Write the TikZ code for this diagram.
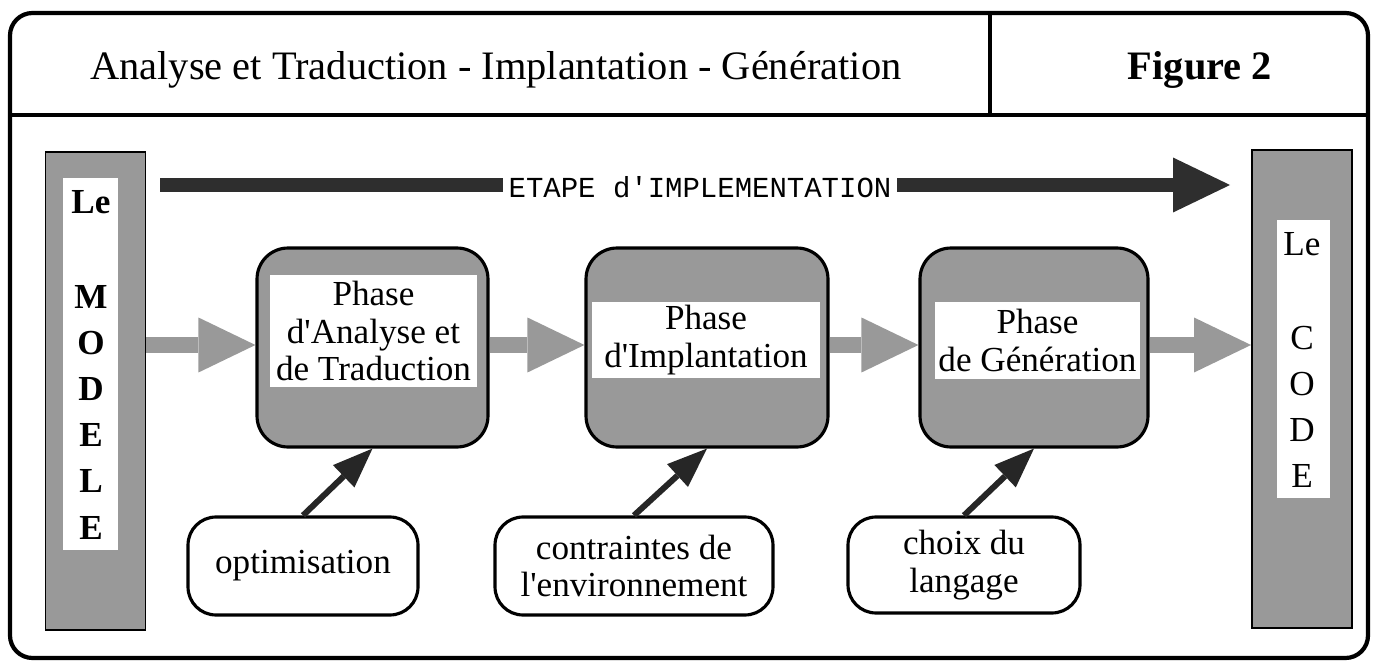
\documentclass[tikz,border=0pt]{standalone}
\usepackage{fontspec}
\setmainfont{Liberation Serif}
\setmonofont{Liberation Mono}
\usetikzlibrary{arrows.meta}

\definecolor{screen}{gray}{0.6}
\definecolor{ink}{gray}{0.15}

\newcommand{\titlefont}{\fontsize{23}{27}\selectfont}
\newcommand{\phasefont}{\fontsize{20}{21.6}\selectfont}
\newcommand{\letterfont}{\fontsize{20}{26.2}\selectfont}
\newcommand{\apos}{\textquotesingle}

\tikzset{
  frame/.style={draw=black, line width=2.4pt, rounded corners=0.45cm},
  rule/.style={draw=black, line width=2pt},
  endbox/.style={draw=black, line width=1.1pt, fill=screen, minimum width=2.0cm, minimum height=9.56cm, inner sep=0pt},
  endpanel/.style={fill=white, inner sep=0pt},
  letters/.style={align=center, inner sep=0pt, font=\letterfont},
  phasebox/.style={draw=black, line width=1.8pt, fill=screen, rounded corners=0.62cm, minimum height=3.98cm, inner sep=0pt},
  panel/.style={fill=white, inner sep=0pt, align=center, font=\phasefont},
  note/.style={draw=black, line width=1.8pt, rounded corners=0.56cm, fill=white, align=center, font=\phasefont, inner sep=0pt, minimum height=1.96cm},
  grayarrow/.style={draw=screen, line width=0.32cm, -{Triangle[length=1.14cm, width=1.1cm, line width=0pt]}},
  darkarrow/.style={draw=ink, line width=0.12cm, -{Triangle[length=0.8cm, width=0.62cm, line width=0pt]}},
  bigarrow/.style={draw=black!82, line width=0.3cm, -{Triangle[length=1.14cm, width=1.1cm, line width=0pt]}},
  steplabel/.style={fill=white, inner xsep=3pt, inner ysep=1pt, font=\ttfamily\fontsize{16.5}{18}\selectfont},
}

\begin{document}
\begin{tikzpicture}[x=0.02cm, y=-0.02cm]
\useasboundingbox (0,0) rectangle (1374,669);

% outer frame and header
\draw[frame] (10,13) rectangle (1368,658);
\draw[rule] (10,115) -- (1368,115);
\draw[rule] (990,13) -- (990,115);
\node[anchor=base west, font=\titlefont, inner sep=0pt] (title) at (90,80)
  {Analyse et Traduction - Implantation - Génération};
\node[anchor=base, font=\titlefont\bfseries, inner sep=0pt] (fig) at (1200,80) {Figure 2};

% implementation stage arrow
\coordinate (etapeS) at (160,185);
\coordinate (etapeE) at (1230,185);
\draw[bigarrow] (etapeS) -- (etapeE);
\node[steplabel] (etape) at (700,187) {ETAPE d\apos IMPLEMENTATION};

% the model and the code
\node[endbox] (modele) at (95.5,391) {};
\node[endpanel, minimum width=1.1cm, minimum height=7.44cm] (modelepanel) at (90.5,364) {};
\node[letters, font=\letterfont\bfseries] (modeletext) at (91,365)
  {Le\\[27.8pt]M\\O\\D\\E\\L\\E};

\node[endbox] (code) at (1302,389) {};
\node[endpanel, minimum width=1.06cm, minimum height=5.56cm] (codepanel) at (1303.5,359) {};
\node[letters] (codetext) at (1302,360) {Le\\[27.8pt]C\\O\\D\\E};

% phases
\node[phasebox, minimum width=4.62cm] (p1) at (372.5,347.5) {};
\node[phasebox, minimum width=4.84cm] (p2) at (707,347.5) {};
\node[phasebox, minimum width=4.56cm] (p3) at (1034,347.5) {};

\node[panel, minimum width=4.14cm, minimum height=2.24cm] (t1) at (373.5,331)
  {Phase\\d\apos Analyse et\\de Traduction};
\node[panel, minimum width=4.56cm, minimum height=1.52cm] (t2) at (706,340)
  {Phase\\d\apos Implantation};
\node[panel, minimum width=4.1cm, minimum height=1.56cm] (t3) at (1037.5,340.5)
  {Phase\\de Génération};

% flow between phases
\draw[grayarrow] (modele.east |- 0,345) -- (p1.west |- 0,345);
\draw[grayarrow] (p1.east |- 0,345) -- (p2.west |- 0,345);
\draw[grayarrow] (p2.east |- 0,345) -- (p3.west |- 0,345);
\draw[grayarrow] (p3.east |- 0,345) -- (code.west |- 0,345);

% influencing factors
\node[note, minimum width=4.6cm] (opt) at (303,566) {optimisation};
\node[note, minimum width=5.56cm] (env) at (634,566) {contraintes de\\l\apos environnement};
\node[note, minimum width=4.64cm, minimum height=1.92cm] (lang) at (964,565) {choix du\\langage};

\draw[darkarrow] (opt.north) -- (p1.south);
\draw[darkarrow] (env.north) -- (p2.south);
\draw[darkarrow] (lang.north) -- (p3.south);
\end{tikzpicture}
\end{document}
